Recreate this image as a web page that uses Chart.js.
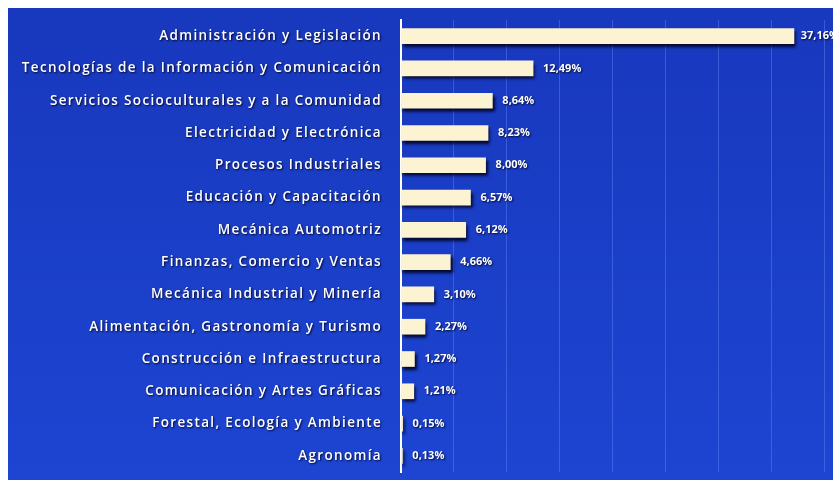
<!DOCTYPE html>
<html>
<head>
<meta charset="utf-8">
<script src="https://cdn.jsdelivr.net/npm/chart.js@4"></script>
<style>
  html, body { margin: 0; padding: 0; background: #fff; }
  #wrap { width: 833px; height: 480px; }
</style>
</head>
<body>
<div id="wrap"><canvas id="chart"></canvas></div>
<script>
const categories = [
    "Administración y Legislación",
    "Tecnologías de la Información y Comunicación",
    "Servicios Socioculturales y a la Comunidad",
    "Electricidad y Electrónica",
    "Procesos Industriales",
    "Educación y Capacitación",
    "Mecánica Automotriz",
    "Finanzas, Comercio y Ventas",
    "Mecánica Industrial y Minería",
    "Alimentación, Gastronomía y Turismo",
    "Construcción e Infraestructura",
    "Comunicación y Artes Gráficas",
    "Forestal, Ecología y Ambiente",
    "Agronomía"
];
const percentages = [37.16, 12.49, 8.64, 8.23, 8.00, 6.57, 6.12, 4.66, 3.10, 2.27, 1.27, 1.21, 0.15, 0.13];
const xMax = 40;
const xStep = 5;

function fmt(v) {
    return v.toFixed(2).replace(".", ",") + "%";
}

// blue panel behind everything, shadows, text
const panel = {
    id: "panel",
    beforeDraw(chart) {
        const ctx = chart.ctx;
        const g = ctx.createLinearGradient(0, 8, 0, chart.height);
        g.addColorStop(0, "#1838bd");
        g.addColorStop(1, "#1d45d2");
        ctx.save();
        ctx.fillStyle = g;
        ctx.fillRect(8, 8, chart.width - 8, chart.height - 8);
        ctx.restore();
    },
    beforeDatasetsDraw(chart) {
        const ctx = chart.ctx;
        ctx.save();
        ctx.shadowColor = "rgba(0, 0, 30, 0.9)";
        ctx.shadowBlur = 3;
        ctx.shadowOffsetX = 2;
        ctx.shadowOffsetY = 3;
    },
    afterDatasetsDraw(chart) {
        const ctx = chart.ctx;
        ctx.restore();
        const y = chart.scales.y;
        const meta = chart.getDatasetMeta(0);
        ctx.save();
        ctx.shadowColor = "rgba(0, 0, 30, 0.9)";
        ctx.shadowBlur = 2;
        ctx.shadowOffsetX = 1;
        ctx.shadowOffsetY = 1;
        ctx.fillStyle = "#ffffff";
        // category names, spaced out so the longest one spans ~360px
        ctx.font = "600 13.5px 'Open Sans'";
        const longest = categories.reduce((a, b) => b.length > a.length ? b : a);
        const w = ctx.measureText(longest).width;
        if ("letterSpacing" in ctx) {
            ctx.letterSpacing = Math.max(0, (360 - w) / longest.length).toFixed(2) + "px";
        }
        ctx.textAlign = "right";
        ctx.textBaseline = "middle";
        categories.forEach((c, i) => {
            ctx.fillText(c, 382, y.getPixelForValue(i));
        });
        if ("letterSpacing" in ctx) ctx.letterSpacing = "0px";
        // value labels
        ctx.font = "bold 11px 'Open Sans'";
        ctx.textAlign = "left";
        meta.data.forEach((bar, i) => {
            const t = fmt(percentages[i]);
            const tw = ctx.measureText(t).width;
            const x = Math.min(bar.x + 10, chart.width - tw + 6);
            ctx.fillText(t, x, bar.y);
        });
        ctx.restore();
    }
};

new Chart(document.getElementById("chart"), {
    type: "bar",
    data: {
        labels: categories,
        datasets: [{
            data: percentages,
            backgroundColor: "#fcf3d3",
            borderWidth: 0,
            barThickness: 15
        }]
    },
    options: {
        indexAxis: "y",
        responsive: true,
        maintainAspectRatio: false,
        animation: false,
        layout: { padding: { top: 20, right: 9, bottom: 8, left: 0 } },
        plugins: {
            legend: { display: false },
            tooltip: { enabled: false }
        },
        scales: {
            x: {
                min: 0,
                max: xMax,
                ticks: { display: false, stepSize: xStep },
                grid: { color: "rgba(110, 140, 255, 0.4)", lineWidth: 1, drawTicks: false },
                border: { display: false },
                afterFit(s) { s.height = 0; }
            },
            y: {
                ticks: { display: false },
                grid: { display: false },
                border: { display: true, color: "#ffffff", width: 2 },
                afterFit(s) { s.width = 401; }
            }
        }
    },
    plugins: [panel]
});
</script>
</body>
</html>
